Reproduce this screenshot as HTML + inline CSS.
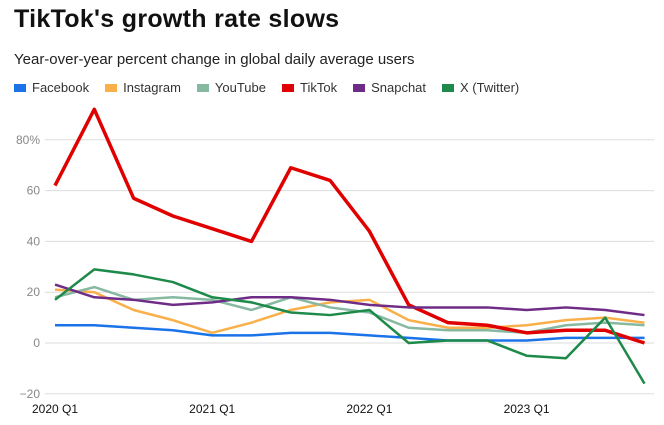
<!DOCTYPE html>
<html><head><meta charset="utf-8"><style>
body{margin:0;width:664px;height:425px;background:#fff;font-family:"Liberation Sans",sans-serif;overflow:hidden;position:relative}
#title{position:absolute;left:14px;top:5px;font-size:25px;font-weight:bold;color:#111;letter-spacing:0.3px}
#sub{position:absolute;left:14px;top:51px;font-size:15px;color:#222}
#legend{position:absolute;left:14px;top:80px;font-size:13px;color:#333;display:flex;gap:16px}
.li{display:flex;align-items:center}
.sw{width:12px;height:8px;margin-right:6px}
svg{position:absolute;left:0;top:0}
</style></head><body>
<div id="title">TikTok's growth rate slows</div>
<div id="sub">Year-over-year percent change in global daily average users</div>
<div id="legend"></div>
<svg id="chart" width="664" height="425"></svg>
<script>
const quarters=["2020 Q1","2020 Q2","2020 Q3","2020 Q4","2021 Q1","2021 Q2","2021 Q3","2021 Q4","2022 Q1","2022 Q2","2022 Q3","2022 Q4","2023 Q1","2023 Q2","2023 Q3","2023 Q4"];
const facebook=[7,7,6,5,3,3,4,4,3,2,1,1,1,2,2,2];
const instagram=[21,20,13,9,4,8,13,16,17,9,6,6,7,9,10,8];
const youtube=[18,22,17,18,17,13,18,14,12,6,5,5,4,7,8,7];
const tiktok=[62,92,57,50,45,40,69,64,44,15,8,7,4,5,5,0];
const snapchat=[23,18,17,15,16,18,18,17,15,14,14,14,13,14,13,11];
const xtwitter=[17,29,27,24,18,16,12,11,13,0,1,1,-5,-6,10,-16];
const yTicks=[-20,0,20,40,60,80];
const xTickLabels=["2020 Q1","2021 Q1","2022 Q1","2023 Q1"];
const series=[
 {name:"Facebook",color:"#1a73e8",data:facebook,w:2.5},
 {name:"Instagram",color:"#f9b04b",data:instagram,w:2.5},
 {name:"YouTube",color:"#86b8a2",data:youtube,w:2.5},
 {name:"TikTok",color:"#e00000",data:tiktok,w:3.5},
 {name:"Snapchat",color:"#6f2c86",data:snapchat,w:2.5},
 {name:"X (Twitter)",color:"#1d8a4a",data:xtwitter,w:2.5}];
const NS="http://www.w3.org/2000/svg";
const svg=document.getElementById('chart');
const x=i=>55+i*39.3;
const y=v=>343-v*2.54;
yTicks.forEach(t=>{
 const l=document.createElementNS(NS,'line');
 l.setAttribute('x1',45);l.setAttribute('x2',654);l.setAttribute('y1',y(t));l.setAttribute('y2',y(t));
 l.setAttribute('stroke','#ddd');l.setAttribute('stroke-width',1);
 
 
 svg.appendChild(l);
 const tx=document.createElementNS(NS,'text');
 tx.setAttribute('x',40);tx.setAttribute('y',y(t)+4);tx.setAttribute('text-anchor','end');
 tx.setAttribute('font-size','12');tx.setAttribute('fill','#888');
 tx.textContent=t===80?'80%':(t<0?'\u2212'+(-t):t);
 
 
 svg.appendChild(tx);
});
xTickLabels.forEach(lb=>{
 const i=quarters.indexOf(lb);
 const tx=document.createElementNS(NS,'text');
 tx.setAttribute('x',x(i));tx.setAttribute('y',413);tx.setAttribute('text-anchor','middle');
 tx.setAttribute('font-size','12');tx.setAttribute('fill','#111');
 tx.textContent=lb;
 
 
 svg.appendChild(tx);
});
const leg=document.getElementById('legend');
series.forEach(s=>{
 const p=document.createElementNS(NS,'polyline');
 p.setAttribute('points',s.data.map((v,i)=>x(i)+','+y(v)).join(' '));
 p.setAttribute('fill','none');p.setAttribute('stroke',s.color);p.setAttribute('stroke-width',s.w);
 p.setAttribute('stroke-linejoin','round');
 
 
 svg.appendChild(p);
 const d=document.createElement('div');d.className='li';
 d.innerHTML='<span class="sw" style="background:'+s.color+'"></span>'+s.name;
 
 
 leg.appendChild(d);
});
</script>
</body></html>
